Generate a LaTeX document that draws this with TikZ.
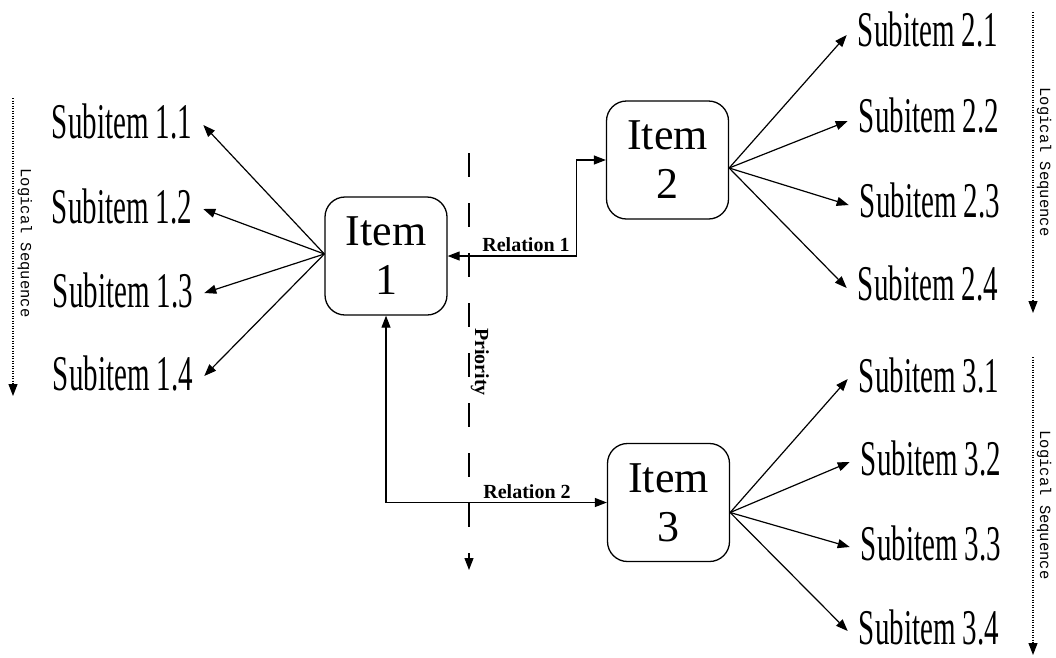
\documentclass[tikz,border=0pt]{standalone}
\usepackage{fontspec}
\usepackage{graphicx}
\setmainfont{Liberation Serif}
\setmonofont{Liberation Mono}
\usetikzlibrary{arrows.meta,calc}
\newcommand\subtxt[1]{\scalebox{0.58}[1]{#1}}
\begin{document}
\begin{tikzpicture}[x=1pt,y=-1pt,
  tip/.style={-{Triangle[length=12pt,width=9pt]}},
  bitip/.style={{Triangle[length=12pt,width=9pt]}-{Triangle[length=12pt,width=9pt]}},
  link/.style={line width=1.2pt},
  itembox/.style={draw,line width=1.3pt,rounded corners=20pt,minimum width=122pt,
    minimum height=118pt,align=center,inner sep=0pt,
    font=\fontsize{44}{49}\selectfont},
  subitem/.style={inner xsep=11pt,inner ysep=0pt,font=\fontsize{50}{50}\selectfont},
  rel/.style={font=\bfseries\fontsize{20}{20}\selectfont,inner sep=1pt},
  seqtext/.style={font=\ttfamily\fontsize{15.5}{15.5}\selectfont,rotate=-90,inner sep=0pt},
  seqline/.style={dash pattern=on 1.1pt off 1.4pt,line width=1.1pt,tip}
]
\useasboundingbox (0,0) rectangle (1056,657);
\fill[white] (0,0) rectangle (1056,657);

% items
\node[itembox] (i1) at (386,256) {Item\\1};
\node[itembox] (i2) at (667.5,160) {Item\\2};
\node[itembox] (i3) at (668.5,502.5) {Item\\3};

% fan points
\coordinate (f1) at ([yshift=2pt]i1.west);
\coordinate (f2) at ([yshift=-8pt]i2.east);
\coordinate (f3) at ([yshift=-10pt]i3.east);

% subitems 1
\node[subitem] (s11) at (122,122) {\subtxt{Subitem 1.1}};
\node[subitem] (s12) at (122,206) {\subtxt{Subitem 1.2}};
\node[subitem] (s13) at (123,290) {\subtxt{Subitem 1.3}};
\node[subitem] (s14) at (123,373) {\subtxt{Subitem 1.4}};
% subitems 2
\node[subitem] (s21) at (928,30) {\subtxt{Subitem 2.1}};
\node[subitem] (s22) at (929,116) {\subtxt{Subitem 2.2}};
\node[subitem] (s23) at (930,200) {\subtxt{Subitem 2.3}};
\node[subitem] (s24) at (928,283) {\subtxt{Subitem 2.4}};
% subitems 3
\node[subitem] (s31) at (929,375) {\subtxt{Subitem 3.1}};
\node[subitem] (s32) at (931,458) {\subtxt{Subitem 3.2}};
\node[subitem] (s33) at (931,543) {\subtxt{Subitem 3.3}};
\node[subitem] (s34) at (929,627) {\subtxt{Subitem 3.4}};

% fan arrows
\foreach \s in {s11,s12,s13,s14} \draw[link,tip] (f1) -- ([yshift=-3pt]\s.east);
\foreach \s in {s21,s22,s23,s24} \draw[link,tip] (f2) -- ([yshift=-5pt]\s.west);
\foreach \s in {s31,s32,s33,s34} \draw[link,tip] (f3) -- ([yshift=-4pt]\s.west);

% relations
\draw[link,bitip] (i1.east) -- ++(129,0) |- (i2.west);
\node[rel] (r1) at (526,245) {Relation 1};
\draw[link,bitip] (i1.south) |- (i3.west);
\node[rel] (r2) at (527,492) {Relation 2};

% priority
\coordinate (p0) at (469,153);
\coordinate (p1) at (469,570);
\draw[line width=1.2pt,dash pattern=on 24pt off 26pt,tip] (p0) -- (p1);
\node[rel,rotate=-90] (pr) at (480,362) {Priority};

% logical sequences
\coordinate (la) at (13,98);
\coordinate (lb) at (13,396);
\draw[seqline] (la) -- (lb);
\node[seqtext] (lt) at (25,243) {Logical Sequence};

\coordinate (ra) at (1033,12);
\coordinate (rb) at (1033,313);
\draw[seqline] (ra) -- (rb);
\node[seqtext] (rt) at (1044,162) {Logical Sequence};

\coordinate (qa) at (1033,357);
\coordinate (qb) at (1033,655);
\draw[seqline] (qa) -- (qb);
\node[seqtext] (qt) at (1044,505) {Logical Sequence};
\end{tikzpicture}
\end{document}
